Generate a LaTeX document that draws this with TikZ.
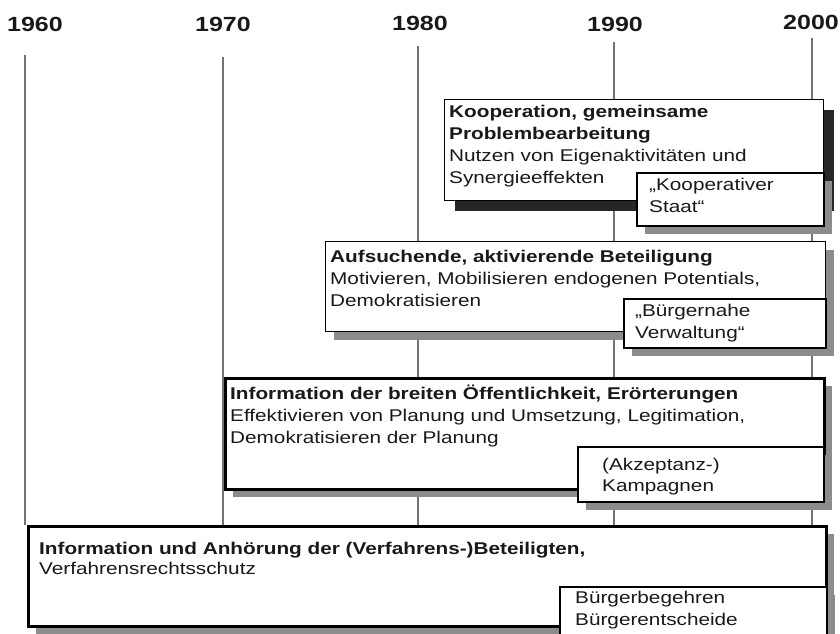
\documentclass[tikz,border=0pt]{standalone}
\usepackage{fontspec}
\setmainfont[FakeStretch=1.22]{Liberation Sans}
\usetikzlibrary{shadows,calc}
\begin{document}
\begin{tikzpicture}[x=1pt,y=-1pt,
  yearlbl/.style={font=\fontsize{20.5}{24}\selectfont\bfseries, anchor=base, inner sep=0, text=black!90},
  gridline/.style={line width=1.8pt, draw=black!55},
  box/.style={draw=black, fill=white, inner sep=0, anchor=north west, line width=1.3pt},
  thickbox/.style={box, line width=2.6pt},
  subbox/.style={box, line width=1.5pt},
  lightshadow/.style={drop shadow={shadow xshift=8pt, shadow yshift=-8pt, fill=black!45, opacity=1}},
  darkshadow/.style={drop shadow={shadow xshift=10pt, shadow yshift=-10pt, fill=black!85, opacity=1}},
  boxtext/.style={anchor=base west, inner sep=0, align=left, font=\fontsize{17}{22}\selectfont, text=black!90},
]
\useasboundingbox (0,0) rectangle (840,634);
\clip (0,0) rectangle (840,634);

% year labels
\node[yearlbl] (y60) at (35,32) {1960};
\node[yearlbl] (y70) at (223,32) {1970};
\node[yearlbl] (y80) at (420,31) {1980};
\node[yearlbl] (y90) at (615,32) {1990};
\node[yearlbl] (y00) at (811,30) {2000};

% grid lines
\coordinate (t60) at (25,55);  \coordinate (e60) at (25,525);
\coordinate (t70) at (223,57); \coordinate (e70) at (223,525);
\coordinate (t80) at (418,46); \coordinate (e80) at (418,525);
\coordinate (t90) at (614,42); \coordinate (e90) at (614,525);
\coordinate (t00) at (812,38); \coordinate (e00) at (812,525);
\draw[gridline] (t60) -- (e60);
\draw[gridline] (t70) -- (e70);
\draw[gridline] (t80) -- (e80);
\draw[gridline] (t90) -- (e90);
\draw[gridline] (t00) -- (e00);

% box 1 (base anchor = baseline of the last line)
\node[box, darkshadow, minimum width=379pt, minimum height=101pt] (b1) at (444,99) {};
\node[boxtext] (b1t) at ($(b1.north west)+(5,84)$) {\textbf{Kooperation, gemeinsame}\\\textbf{Problembearbeitung}\\Nutzen von Eigenaktivitäten und\\Synergieeffekten};
\node[subbox, lightshadow, minimum width=187pt, minimum height=53pt] (s1) at (636,172) {};
\node[boxtext] (s1t) at ($(s1.north west)+(13,40)$) {„Kooperativer\\Staat“};

% box 2
\node[box, lightshadow, minimum width=500pt, minimum height=90pt] (b2) at (325,241) {};
\node[boxtext] (b2t) at ($(b2.north west)+(5,65)$) {\textbf{Aufsuchende, aktivierende Beteiligung}\\Motivieren, Mobilisieren endogenen Potentials,\\Demokratisieren};
\node[subbox, lightshadow, minimum width=202pt, minimum height=49pt] (s2) at (623,298) {};
\node[boxtext] (s2t) at ($(s2.north west)+(12,40)$) {„Bürgernahe\\Verwaltung“};

% box 3
\node[thickbox, lightshadow, minimum width=599pt, minimum height=111pt] (b3) at (224,377) {};
\node[boxtext] (b3t) at ($(b3.north west)+(6,66)$) {\textbf{Information der breiten Öffentlichkeit, Erörterungen}\\Effektivieren von Planung und Umsetzung, Legitimation,\\Demokratisieren der Planung};
\node[subbox, lightshadow, minimum width=246pt, minimum height=55pt] (s3) at (577,446) {};
\node[boxtext, font=\fontsize{17}{21}\selectfont] (s3t) at ($(s3.north west)+(25,45)$) {(Akzeptanz-)\\Kampagnen};

% box 4
\node[thickbox, lightshadow, minimum width=798pt, minimum height=100pt] (b4) at (27,525) {};
\node[boxtext, font=\fontsize{17}{20}\selectfont] (b4t) at ($(b4.north west)+(12,49)$) {\textbf{Information und Anhörung der (Verfahrens-)Beteiligten,}\\Verfahrensrechtsschutz};
\node[subbox, lightshadow, minimum width=267pt, minimum height=60pt] (s4) at (559,586) {};
\node[boxtext] (s4t) at ($(s4.north west)+(16,39)$) {Bürgerbegehren\\Bürgerentscheide};
\end{tikzpicture}
\end{document}
